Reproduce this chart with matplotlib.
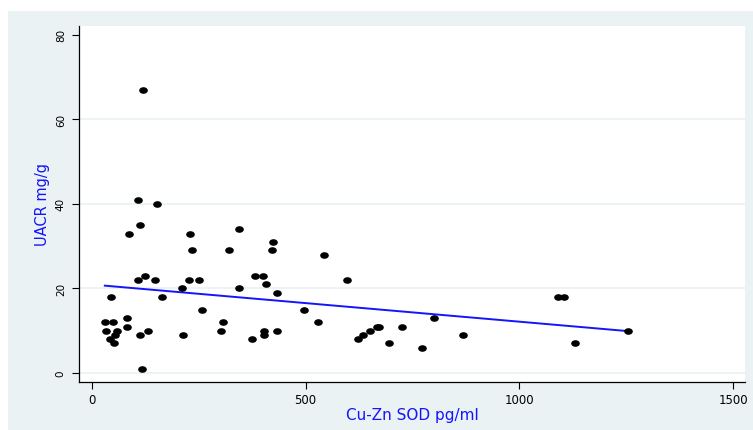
import numpy as np
import matplotlib
matplotlib.use("Agg")
import matplotlib.pyplot as plt
from matplotlib.path import Path
from matplotlib.patches import Rectangle

# Cu-Zn SOD (pg/ml) and UACR (mg/g)
sod = [30, 33, 41, 44, 50, 52, 55, 59, 81, 81, 86, 108, 108, 112, 112, 116,
       119, 123, 132, 148, 153, 163, 211, 213, 227, 230, 233, 250, 258, 303,
       307, 321, 344, 344, 375, 382, 401, 402, 402, 407, 421, 424, 432, 432,
       496, 530, 542, 596, 622, 635, 651, 667, 672, 694, 726, 773, 800, 868,
       1091, 1104, 1131, 1254]
uacr = [12, 10, 8, 18, 12, 7, 9, 10, 13, 11, 33, 41, 22, 35, 9, 1,
        67, 23, 10, 22, 40, 18, 20, 9, 22, 33, 29, 22, 15, 10,
        12, 29, 34, 20, 8, 23, 23, 10, 9, 21, 29, 31, 19, 10,
        15, 12, 28, 22, 8, 9, 10, 11, 11, 7, 11, 6, 13, 9,
        18, 18, 7, 10]

x_ticks = [0, 500, 1000, 1500]
y_ticks = [0, 20, 40, 60, 80]
grid_levels = [0, 20, 40, 60]

bg = "#EAF2F3"
blue = "#1414FF"

fig = plt.figure(figsize=(7.53, 4.31), dpi=100, facecolor="white")
# light outer frame like Stata's s2color scheme
fig.patches.append(Rectangle((8 / 753, 0), 1, 1 - 12 / 431, transform=fig.transFigure,
                             facecolor=bg, edgecolor="none", zorder=-10))

ax = fig.add_axes([79 / 753, 1 - 383 / 431, 666 / 753, 356 / 431])
ax.set_facecolor("white")
ax.set_xlim(-30.4, 1528)
ax.set_ylim(-2.13, 82.1)

for lvl in grid_levels:
    ax.axhline(lvl, color=bg, lw=1.3, zorder=0)

# slightly flattened dots (the reference is stretched sideways)
circ = Path.unit_circle()
dot = Path(circ.vertices * np.array([1.0, 0.72]), circ.codes)
ax.plot(sod, uacr, linestyle="none", marker=dot, markersize=5.2,
        color="black", zorder=3)

# linear fit
x = np.array(sod, dtype=float)
y = np.array(uacr, dtype=float)
b, a = np.polyfit(x, y, 1)
xs = np.array([x.min(), x.max()])
ax.plot(xs, a + b * xs, color=blue, lw=1.4, zorder=2)

ax.set_xticks(x_ticks)
ax.set_yticks(y_ticks)
ax.set_yticklabels([str(t) for t in y_ticks], rotation=90, va="center")
ax.tick_params(axis="y", length=5, width=0.8, labelsize=7.5, pad=4.5)
ax.tick_params(axis="x", length=5, width=0.8, labelsize=8.5, pad=3)

for side in ["top", "right"]:
    ax.spines[side].set_visible(False)
for side in ["left", "bottom"]:
    ax.spines[side].set_linewidth(0.9)

ax.set_xlabel("Cu-Zn SOD pg/ml", color=blue, fontsize=11, labelpad=1)
ax.set_ylabel("UACR mg/g", color=blue, fontsize=10.5, labelpad=4)

fig.savefig("out.png", dpi=100, facecolor="white")
